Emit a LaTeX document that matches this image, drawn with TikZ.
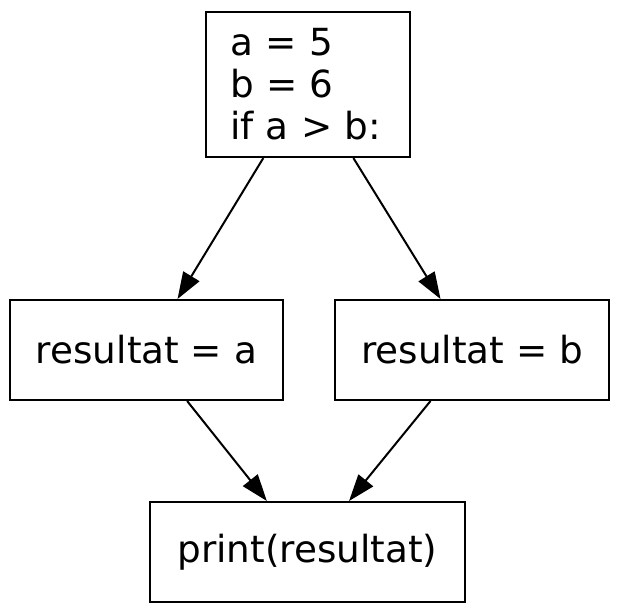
\documentclass[tikz,border=0pt]{standalone}
\usepackage{fontspec}
\setmainfont{DejaVu Sans}
\usetikzlibrary{arrows.meta,positioning}

\begin{document}
\begin{tikzpicture}[
  x=0.375pt, y=-0.375pt,
  blk/.style={rectangle, draw=black, line width=0.75pt, inner sep=0pt, minimum height=37.5pt, font=\fontsize{14pt}{15.75pt}\selectfont},
  e/.style={-{Triangle[length=10pt,width=7pt]}, line width=0.75pt, black}
]
  \useasboundingbox (0,0) rectangle (621,614);
  \node[blk, minimum height=54.4pt, text width=58.5pt, inner xsep=9pt, align=left] (cond) at (308,84.5) {a = 5\\b = 6\\if a > b:};
  \node[blk, minimum width=102.4pt] (resa) at (146.5,350) {resultat = a};
  \node[blk, minimum width=102.7pt] (resb) at (472,350) {resultat = b};
  \node[blk, minimum width=118.1pt] (out) at (307.5,552) {print(resultat)};
  \draw[e] (cond)--(resa); \draw[e] (cond)--(resb);
  \draw[e] (resa)--(out); \draw[e] (resb)--(out);
\end{tikzpicture}
\end{document}
